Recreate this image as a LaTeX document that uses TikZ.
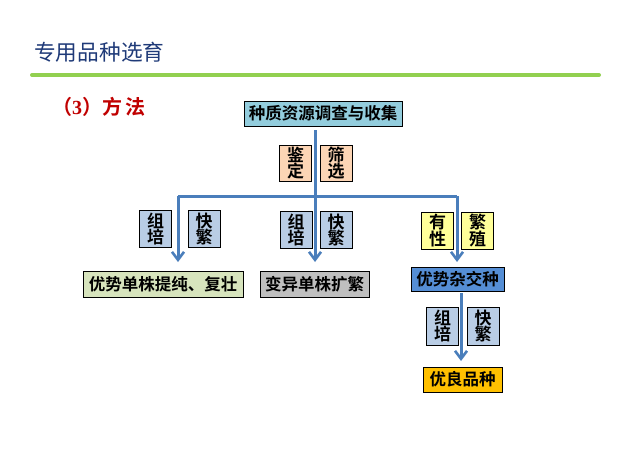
\documentclass[tikz,border=0pt]{standalone}
\usepackage{fontspec}
\setmainfont{Liberation Serif}
\newfontfamily\cjk{Noto Sans CJK SC}
\newfontfamily\cjkb{Noto Sans CJK SC Bold}
\newfontfamily\serifb{Liberation Serif Bold}
\usetikzlibrary{arrows.meta}
\definecolor{titleblue}{HTML}{1F3A78}
\definecolor{greenline}{HTML}{92D050}
\definecolor{flowblue}{HTML}{4A7EBB}
\definecolor{topfill}{HTML}{93CDDD}
\definecolor{peach}{HTML}{FCD5B5}
\definecolor{lblue}{HTML}{B9CDE5}
\definecolor{lyellow}{HTML}{FFFF99}
\definecolor{lgreen}{HTML}{D7E4BD}
\definecolor{lgray}{HTML}{BFBFBF}
\definecolor{midblue}{HTML}{558ED5}
\definecolor{gold}{HTML}{FFC000}
\definecolor{methodred}{HTML}{C00000}
\tikzset{
  box/.style={draw=black, line width=0.8pt, inner sep=0pt, font=\cjkb\fontsize{16.5}{18}\selectfont, text=black},
  vbox/.style={draw=black, line width=0.8pt, inner sep=0pt, minimum width=32pt, minimum height=37pt,
     align=center, font=\cjkb\fontsize{17}{16.5}\selectfont, text=black},
  flow/.style={draw=flowblue, line width=3pt},
  flowarrow/.style={flow, -{Straight Barb[length=8pt,width=12pt,line width=2.6pt]}}
}
\begin{document}
\begin{tikzpicture}[x=1pt,y=-1pt]
\useasboundingbox (0,0) rectangle (632,474);
% title
\node[anchor=west, text=titleblue, font=\cjk\fontsize{21.7}{24}\selectfont, inner sep=0pt] (title) at (34,52) {专用品种选育};
\draw[greenline, line width=4pt, line cap=round] (32,75) -- (599,75);
\node[anchor=west, text=methodred, font=\cjkb\fontsize{20}{22}\selectfont, inner sep=0pt] (method) at (52,107) {（{\serifb 3}）方\hspace{3pt}法};
% boxes
\node[box, fill=topfill, minimum width=158pt, minimum height=25pt] (top) at (323,113.5) {种质资源调查与收集};
\node[vbox, fill=peach, minimum height=36pt] (jd) at (295.5,163) {鉴\\定};
\node[vbox, fill=peach, minimum height=36pt] (sx) at (336,163) {筛\\选};
\node[vbox, fill=lblue] (zp1) at (155.5,229) {组\\培};
\node[vbox, fill=lblue] (kf1) at (204,229) {快\\繁};
\node[vbox, fill=lblue] (zp2) at (296,230) {组\\培};
\node[vbox, fill=lblue] (kf2) at (336,230) {快\\繁};
\node[vbox, fill=lyellow] (yx) at (437.5,230.5) {有\\性};
\node[vbox, fill=lyellow] (fz) at (477.5,230.5) {繁\\殖};
\node[box, fill=lgreen, minimum width=160pt, minimum height=26pt] (ys) at (163,284) {优势单株提纯、复壮};
\node[box, fill=lgray, minimum width=109pt, minimum height=26pt] (by) at (314.5,284) {变异单株扩繁};
\node[box, fill=midblue, minimum width=93pt, minimum height=24pt] (hyb) at (457.5,279) {优势杂交种};
\node[vbox, fill=lblue, minimum height=38pt] (zp3) at (442.5,326) {组\\培};
\node[vbox, fill=lblue, minimum height=38pt] (kf3) at (483,326) {快\\繁};
\node[box, fill=gold, minimum width=79pt, minimum height=25pt] (yl) at (462.5,379.5) {优良品种};
% connectors
\coordinate (jl) at (178,196);
\coordinate (jm) at (315,196);
\coordinate (jr) at (457,196);
\coordinate (tl) at (178,262);
\coordinate (tm) at (315,262);
\coordinate (tr) at (457,262);
\coordinate (hs) at (461,293);
\coordinate (ye) at (461,361);
\draw[flow] (jm |- top.south) ++(0,4) -- (jm);
\draw[flow] (jl) -- (jr);
\draw[flowarrow] (jl) -- (tl);
\draw[flowarrow] (jm) -- (tm);
\draw[flowarrow] (jr) -- (tr);
\draw[flowarrow] (hs) -- (ye);
\end{tikzpicture}
\end{document}
